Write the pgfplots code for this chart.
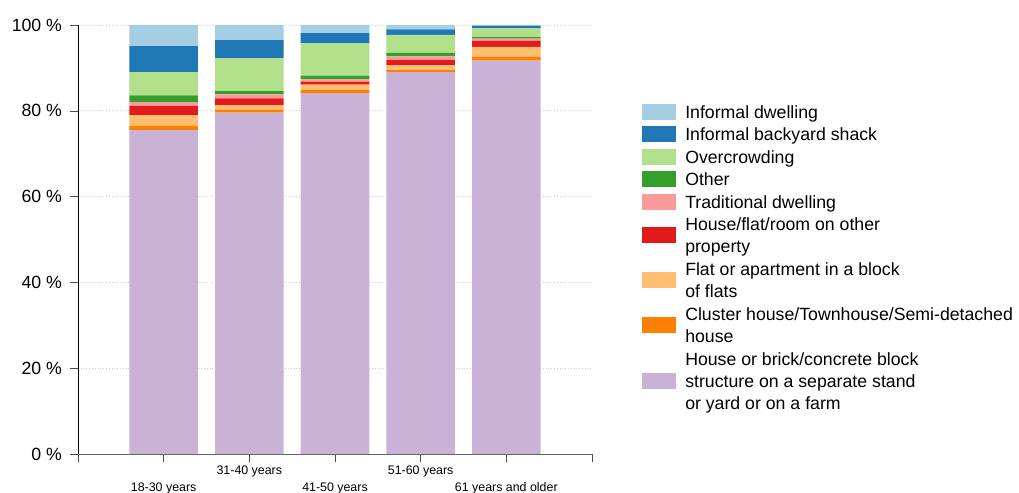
\documentclass[border=0pt]{standalone}
\usepackage{fontspec}
\setmainfont{Liberation Sans}
\usepackage{pgfplots}
\usepackage{pgfplotstable}
\pgfplotsset{compat=1.18}

\definecolor{cInfDw}{HTML}{A6CEE3}
\definecolor{cShack}{HTML}{1F78B4}
\definecolor{cOver}{HTML}{B2DF8A}
\definecolor{cOther}{HTML}{33A02C}
\definecolor{cTrad}{HTML}{FB9A99}
\definecolor{cOthProp}{HTML}{E31A1C}
\definecolor{cFlat}{HTML}{FDBF6F}
\definecolor{cCluster}{HTML}{FF7F00}
\definecolor{cHouse}{HTML}{CAB2D6}

% age group index, shares in % (bottom to top of the stack)
\pgfplotstableread{
x house cluster flat othprop trad other over shack infdw
0 75.5 1.0 2.5 2.1 0.9 1.6 5.4 6.1 4.9
1 79.6 0.6 1.1 1.6 0.9 0.8 7.6 4.3 3.5
2 84.1 0.7 1.3 0.7 0.5 0.9 7.5 2.4 1.9
3 89.0 0.5 1.1 1.2 0.9 0.8 4.2 1.3 1.0
4 91.7 0.9 2.3 1.4 0.5 0.4 2.0 0.6 0.2
}\dwell

\begin{document}
\begin{tikzpicture}
\begin{axis}[
    name=ax,
    scale only axis,
    width=257pt, height=214.5pt,
    ybar stacked,
    bar width=0.8,
    xmin=-1, xmax=5,
    ymin=0, ymax=100,
    axis x line*=bottom,
    axis y line*=left,
    axis line style={-},
    x axis line style={black!60},
    xtick={-1,0,1,2,3,4,5},
    xticklabels={,{\strut\\18-30 years},{\strut 31-40 years},{\strut\\41-50 years},{\strut 51-60 years},{\strut\\61 years and older},},
    x tick label style={font=\fontsize{6.2}{8.3}\selectfont, align=center, inner sep=0pt, yshift=-0.5pt},
    ytick={0,20,40,60,80,100},
    yticklabels={0 \%,20 \%,40 \%,60 \%,80 \%,100 \%},
    y tick label style={font=\fontsize{8.85}{10}\selectfont, inner sep=0pt, xshift=-4pt},
    tick align=outside,
    major tick length=3.8pt,
    tick style={black!70},
    ymajorgrids,
    major grid style={densely dotted, black!20},
    reverse legend,
    legend cell align=left,
    legend style={
        at={(1.097,0.8205)}, anchor=north west,
        draw=none, inner sep=0pt, row sep=1.9pt,
        font=\fontsize{8.85}{11.2}\selectfont,
        nodes={inner sep=0pt, align=left},
        /tikz/every odd column/.append style={column sep=4.5pt},
    },
    legend image code/.code={\fill[#1] (0pt,-4pt) rectangle (17pt,4pt);},
    every axis plot/.append style={draw=none},
]
\addplot[fill=cHouse] table[x=x, y=house] {\dwell};
\addplot[fill=cCluster] table[x=x, y=cluster] {\dwell};
\addplot[fill=cFlat] table[x=x, y=flat] {\dwell};
\addplot[fill=cOthProp] table[x=x, y=othprop] {\dwell};
\addplot[fill=cTrad] table[x=x, y=trad] {\dwell};
\addplot[fill=cOther] table[x=x, y=other] {\dwell};
\addplot[fill=cOver] table[x=x, y=over] {\dwell};
\addplot[fill=cShack] table[x=x, y=shack] {\dwell};
\addplot[fill=cInfDw] table[x=x, y=infdw] {\dwell};
\legend{
    {\strut House or brick/concrete block\\\strut structure on a separate stand\\\strut or yard or on a farm},
    {\strut Cluster house/Townhouse/Semi-detached\\\strut house},
    {\strut Flat or apartment in a block\\\strut of flats},
    {\strut House/flat/room on other\\\strut property},
    {\strut Traditional dwelling},
    {\strut Other},
    {\strut Overcrowding},
    {\strut Informal backyard shack},
    {\strut Informal dwelling}
}
\end{axis}
\pgfresetboundingbox
\path[use as bounding box] (ax.south west) ++(-39pt,-19.5pt) rectangle ++(509.5pt,246.5pt);
\end{tikzpicture}
\end{document}
